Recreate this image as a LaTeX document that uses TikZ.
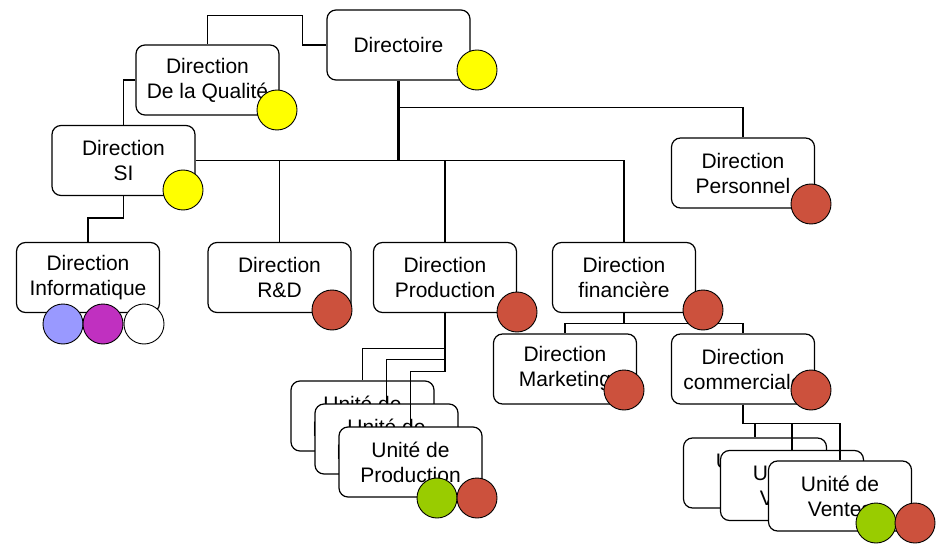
\documentclass[tikz,border=0pt]{standalone}
\usepackage{fontspec}
\setmainfont{Liberation Sans}
\usepackage{tikz}
\usetikzlibrary{calc}
\definecolor{jaune}{HTML}{FFFF00}
\definecolor{rouge}{HTML}{CC513D}
\definecolor{vert}{HTML}{99CC00}
\definecolor{lavande}{HTML}{9999FF}
\definecolor{mauve}{HTML}{C030C0}
\tikzset{
    boite/.style={draw=black, fill=white, line width=1.2pt, rounded corners=9pt,
        minimum width=143pt, minimum height=70pt, align=center, inner sep=0pt,
        font=\fontsize{21}{25}\selectfont},
    pastille/.style={circle, draw=black, line width=0.9pt, minimum size=40pt, inner sep=0pt},
    lien/.style={line width=1.2pt}
}
\newcommand{\boite}[4]{
    \node[boite] (#1) at (#2,#3) {#4};
}
\newcommand{\pastille}[4]{
    \node[pastille, fill=#4] (#1) at (#2,#3) {};
}

\begin{document}
\begin{tikzpicture}[x=1pt,y=-1pt]
        \useasboundingbox (0,0) rectangle (936,545);

        \boite{dir}{398.5}{45}{Directoire}
        \boite{qual}{207.5}{80}{Direction\\De la Qualité}
        \boite{si}{123.5}{160.5}{Direction\\SI}
        \boite{pers}{743}{173}{Direction\\Personnel}
        \boite{info}{88}{277.5}{Direction\\Informatique}
        \boite{rd}{279.5}{277.5}{Direction\\R\&D}
        \boite{prod}{445}{277.5}{Direction\\Production}
        \boite{fin}{624}{277.5}{Direction\\financière}
        \boite{mkt}{565}{369}{Direction\\Marketing}
        \boite{com}{743}{369}{Direction\\commerciale}
        \boite{up1}{362.5}{416}{Unité de\\Production}
        \boite{up2}{386.5}{439}{Unité de\\Production}
        \boite{up3}{410.5}{462}{Unité de\\Production}
        \boite{uv1}{755}{473}{Unité de\\Ventes}
        \boite{uv2}{792}{485.5}{Unité de\\Ventes}
        \boite{uv3}{840}{496}{Unité de\\Ventes}

        \draw[lien] (dir.west) -- ++(-24,0) |- ($(qual.north)+(0,-29)$) -- (qual.north);
        \draw[lien] (qual.west) -| (si.north);
        \draw[lien] (si.east) -| (fin.north);
        \draw[lien] (rd.north) -- (rd.north |- si.east);
        \draw[lien] (prod.north) -- (prod.north |- si.east);
        \draw[line width=2.8pt] (dir.south) -- (dir.south |- si.east);
        \draw[lien] ($(dir.south)+(0,27)$) -| (pers.north);
        \draw[lien] (si.south) -- ++(0,22) -| (info.north);
        \foreach \u/\d in {up1/35, up2/46, up3/58}
            \draw[lien] (prod.south) -- ++(0,\d) -| (\u.north);
        \draw[lien] (fin.south) -- ++(0,10) -| (mkt.north);
        \draw[lien] (fin.south) -- ++(0,10) -| (com.north);
        \foreach \u in {uv1, uv2, uv3}
            \draw[lien] (com.south) -- ++(0,19) -| (\u.north);

        \pastille{dir-p}{477}{70}{jaune}
        \pastille{qual-p}{277}{110}{jaune}
        \pastille{si-p}{183}{190}{jaune}
        \pastille{pers-p}{811}{204}{rouge}
        \pastille{info-p1}{63}{324}{lavande}
        \pastille{info-p2}{103}{324}{mauve}
        \pastille{info-p3}{144}{324}{white}
        \pastille{rd-p}{332}{310}{rouge}
        \pastille{prod-p}{517}{312}{rouge}
        \pastille{fin-p}{703}{310}{rouge}
        \pastille{mkt-p}{624}{390}{rouge}
        \pastille{com-p}{811}{390}{rouge}
        \pastille{up-p1}{437}{498}{vert}
        \pastille{up-p2}{477}{498}{rouge}
        \pastille{uv-p1}{876}{523}{vert}
        \pastille{uv-p2}{915}{523}{rouge}
\end{tikzpicture}
\end{document}
